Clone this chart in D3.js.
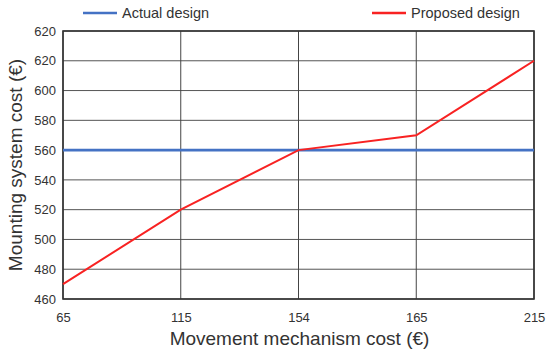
<!DOCTYPE html>
<html>
<head>
<meta charset="utf-8">
<script src="https://cdn.jsdelivr.net/npm/d3@7"></script>
<style>
  body { margin: 0; background: #fff; }
  text { font-family: "Liberation Sans", Arial, sans-serif; fill: #333; }
</style>
</head>
<body>
<div id="chart"></div>
<script>
// categories on x (evenly spaced, as in the source figure)
const costs = ['65', '115', '154', '165', '215'];
// series values
const proposed = [470, 520, 560, 570, 620];
const actual = [560, 560, 560, 560, 560];
// y tick values and their printed labels (the top one is printed as 620 in the source)
const yTicks = [460, 480, 500, 520, 540, 560, 580, 600, 620, 640];
const yTickLabels = ['460', '480', '500', '520', '540', '560', '580', '600', '620', '620'];

const width = 550, height = 353;
const margin = {top: 31, right: 16, bottom: 54, left: 63};
const innerW = width - margin.left - margin.right;
const innerH = height - margin.top - margin.bottom;

const svg = d3.select('#chart').append('svg')
    .attr('width', width)
    .attr('height', height);

const chart = svg.append('g')
    .attr('transform', `translate(${margin.left},${margin.top})`);

const x = d3.scalePoint().domain(costs).range([0, innerW]);
const y = d3.scaleLinear().domain([460, 640]).range([innerH, 0]);

// grid lines
chart.append('g')
    .selectAll('line.hgrid')
    .data(yTicks)
  .join('line')
    .attr('class', 'hgrid')
    .attr('x1', 0).attr('x2', innerW)
    .attr('y1', d => y(d)).attr('y2', d => y(d))
    .attr('stroke', '#555')
    .attr('stroke-width', 1);

chart.append('g')
    .selectAll('line.vgrid')
    .data(costs)
  .join('line')
    .attr('class', 'vgrid')
    .attr('x1', d => x(d)).attr('x2', d => x(d))
    .attr('y1', 0).attr('y2', innerH)
    .attr('stroke', '#444')
    .attr('stroke-width', 1);

// frame
chart.append('rect')
    .attr('width', innerW)
    .attr('height', innerH)
    .attr('fill', 'none')
    .attr('stroke', '#333')
    .attr('stroke-width', 1.6);

// y axis labels
const yAxis = d3.axisLeft(y)
    .tickValues(yTicks)
    .tickSize(0)
    .tickPadding(7)
    .tickFormat((d, i) => yTickLabels[i]);
chart.append('g').call(yAxis)
    .call(g => g.select('.domain').remove())
    .selectAll('text')
    .attr('font-size', 13)
    .attr('fill', '#333');

// x axis labels
const xAxis = d3.axisBottom(x).tickSize(0).tickPadding(14);
chart.append('g')
    .attr('transform', `translate(0,${innerH})`)
    .call(xAxis)
    .call(g => g.select('.domain').remove())
    .selectAll('text')
    .attr('font-size', 13)
    .attr('fill', '#333');

const line = d3.line()
    .x((d, i) => x(costs[i]))
    .y(d => y(d));

chart.append('path')
    .datum(actual)
    .attr('d', line)
    .attr('fill', 'none')
    .attr('stroke', '#4472c4')
    .attr('stroke-width', 2.6);

chart.append('path')
    .datum(proposed)
    .attr('d', line)
    .attr('fill', 'none')
    .attr('stroke', '#f82222')
    .attr('stroke-width', 2);

// axis titles
svg.append('text')
    .attr('x', margin.left + innerW / 2 + 1)
    .attr('y', 345)
    .attr('text-anchor', 'middle')
    .attr('font-size', 19)
    .text('Movement mechanism cost (€)');

svg.append('text')
    .attr('transform', `translate(22,${margin.top + innerH / 2}) rotate(-90)`)
    .attr('text-anchor', 'middle')
    .attr('font-size', 19)
    .text('Mounting system cost (€)');

// legend
const legendItems = [
  {label: 'Actual design', color: '#4472c4', x: 83},
  {label: 'Proposed design', color: '#f82222', x: 372}
];
const legend = svg.append('g').selectAll('g')
    .data(legendItems)
  .join('g')
    .attr('transform', d => `translate(${d.x},13)`);
legend.append('line')
    .attr('x1', 0).attr('x2', 34)
    .attr('stroke', d => d.color)
    .attr('stroke-width', 2.5);
legend.append('text')
    .attr('x', 39)
    .attr('dy', '0.35em')
    .attr('font-size', 14.5)
    .text(d => d.label);
</script>
</body>
</html>
